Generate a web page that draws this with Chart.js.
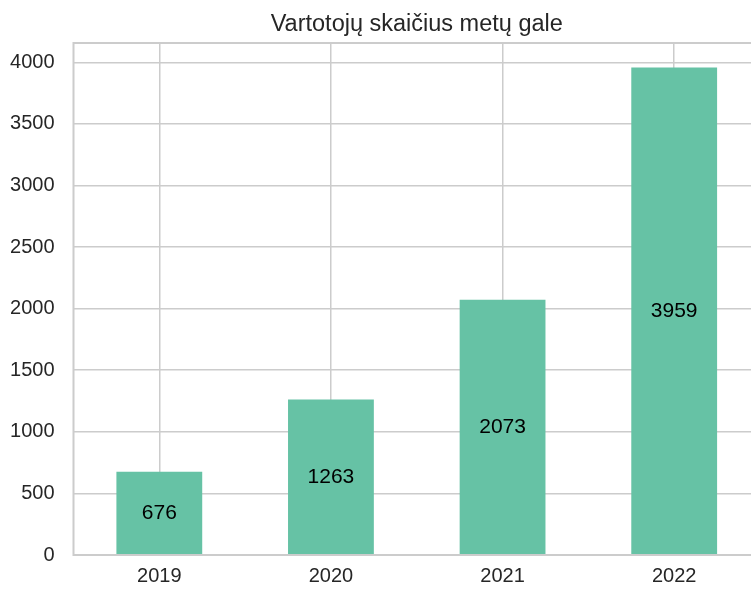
<!DOCTYPE html>
<html>
<head>
<meta charset="utf-8">
<script src="https://cdn.jsdelivr.net/npm/chart.js@4/dist/chart.umd.min.js"></script>
<style>
  html, body { margin: 0; padding: 0; background: #fff; overflow: hidden; }
  #wrap { width: 760px; height: 591px; }
</style>
</head>
<body>
<div id="wrap"><canvas id="myChart" width="760" height="591"></canvas></div>
<script>
// metai ir vartotojų skaičius
const years = ['2019', '2020', '2021', '2022']
const users = [676, 1263, 2073, 3959]
const yTicks = [0, 500, 1000, 1500, 2000, 2500, 3000, 3500, 4000]

const FONT = '"Liberation Sans", Arial, sans-serif'

// spines around the plot area
const frame = {
  id: 'frame',
  afterDraw(chart) {
    const { ctx, chartArea: a } = chart
    ctx.save()
    ctx.strokeStyle = '#cccccc'
    ctx.lineWidth = 2
    ctx.strokeRect(a.left, a.top, a.right - a.left, a.bottom - a.top)
    ctx.restore()
  }
}

// value in the middle of each bar
const barLabels = {
  id: 'barLabels',
  afterDatasetsDraw(chart) {
    const { ctx } = chart
    const meta = chart.getDatasetMeta(0)
    const y = chart.scales.y
    ctx.save()
    ctx.fillStyle = '#000'
    ctx.font = '21px ' + FONT
    ctx.textAlign = 'center'
    ctx.textBaseline = 'middle'
    meta.data.forEach((bar, i) => {
      ctx.fillText(String(users[i]), bar.x, y.getPixelForValue(users[i] / 2))
    })
    ctx.restore()
  }
}

const ctx = document.getElementById('myChart')

const myChart = new Chart(ctx, {
  type: 'bar',
  data: {
    labels: years,
    datasets: [{
      data: users,
      backgroundColor: '#66c2a5',
      borderWidth: 0,
      barPercentage: 0.5,
      categoryPercentage: 1.0
    }]
  },
  options: {
    responsive: false,
    animation: false,
    layout: { padding: 0 },
    plugins: {
      legend: { display: false },
      tooltip: { enabled: false },
      title: {
        display: true,
        fullSize: false,
        text: 'Vartotojų skaičius metų gale',
        color: '#262626',
        font: { family: FONT, size: 23.5, weight: 'normal', lineHeight: 1.2 },
        padding: { top: 10.5, bottom: 4.3 }
      }
    },
    scales: {
      x: {
        offset: true,
        grid: { offset: false, color: '#cccccc', lineWidth: 1.5, drawTicks: false },
        border: { display: false },
        ticks: { color: '#262626', font: { family: FONT, size: 20 }, padding: 9 },
        afterFit(scale) { scale.height = 36 }
      },
      y: {
        min: 0,
        max: 3959 * 1.05,
        grid: { color: '#cccccc', lineWidth: 1.5, drawTicks: false },
        border: { display: false },
        ticks: {
          color: '#262626',
          font: { family: FONT, size: 20 },
          padding: 19,
          callback: v => String(v)
        },
        afterBuildTicks(scale) { scale.ticks = yTicks.map(v => ({ value: v })) },
        afterFit(scale) { scale.width = 73.5 }
      }
    }
  },
  plugins: [frame, barLabels]
})
</script>
</body>
</html>
